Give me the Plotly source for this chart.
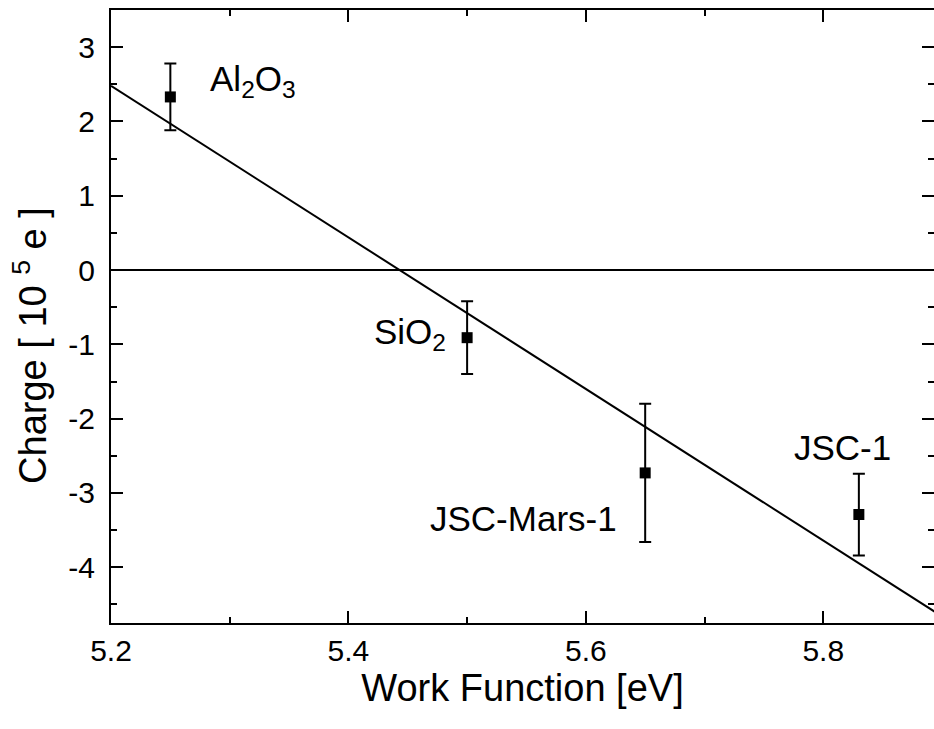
import plotly.graph_objects as go

# Data
materials = ["Al<sub>2</sub>O<sub>3</sub>", "SiO<sub>2</sub>", "JSC-Mars-1", "JSC-1"]
work_function = [5.25, 5.50, 5.65, 5.83]
charge = [2.33, -0.91, -2.73, -3.29]
charge_err = [0.45, 0.49, 0.93, 0.55]

fit_x = [5.2, 5.9]
fit_y = [2.48, -4.66]

zero_x = [5.2, 5.9]
zero_y = [0.0, 0.0]

x_range = [5.2, 5.8933]
y_range = [-4.75, 3.5]

x_tickvals = [5.2, 5.4, 5.6, 5.8]
x_ticktext = ["5.2", "5.4", "5.6", "5.8"]
y_tickvals = [-4, -3, -2, -1, 0, 1, 2, 3]
y_ticktext = ["-4", "-3", "-2", "-1", "0", "1", "2", "3"]

# label offsets (pixels) relative to each point: (xanchor, xshift, yshift)
label_pos = [("left", 38, 16), ("right", -19, 4), ("right", -26, -46), ("center", -16, 67)]

FONT = "Arial, Liberation Sans, sans-serif"
LW = 2

fig = go.Figure()
fig.add_trace(go.Scatter(x=zero_x, y=zero_y, mode="lines",
                         line=dict(color="black", width=LW), showlegend=False, hoverinfo="skip"))
fig.add_trace(go.Scatter(x=fit_x, y=fit_y, mode="lines",
                         line=dict(color="black", width=LW), showlegend=False))
fig.add_trace(go.Scatter(x=work_function, y=charge, mode="markers",
                         marker=dict(symbol="square", size=11, color="black"),
                         error_y=dict(type="data", array=charge_err, visible=True,
                                      color="black", thickness=2, width=6),
                         showlegend=False))
# invisible trace for mirrored axes
fig.add_trace(go.Scatter(x=fit_x, y=fit_y, xaxis="x2", yaxis="y2", mode="lines",
                         line=dict(width=0), opacity=0, showlegend=False, hoverinfo="skip"))

for name, xv, yv, (anc, xs, ys) in zip(materials, work_function, charge, label_pos):
    fig.add_annotation(x=xv, y=yv, text=name, showarrow=False, xanchor=anc, yanchor="middle",
                       xshift=xs, yshift=ys, font=dict(family=FONT, size=35, color="black"))

# y-axis title (placed as rotated text, as in the reference it sits below centre)
fig.add_annotation(xref="paper", yref="paper", x=0, y=0.452, xanchor="center", yanchor="middle",
                   xshift=-81, text="Charge [ 10 <sup>5</sup> e ]", textangle=-90, showarrow=False,
                   font=dict(family=FONT, size=38, color="black"))

common_x = dict(range=x_range, tickvals=x_tickvals, ticktext=x_ticktext, ticks="inside", ticklen=12,
                tickwidth=LW, tickcolor="black", showgrid=False, zeroline=False,
                minor=dict(ticks="inside", ticklen=6, dtick=0.1, tickwidth=LW, tickcolor="black", showgrid=False))
common_y = dict(range=y_range, tickvals=y_tickvals, ticktext=y_ticktext, ticks="inside", ticklen=12,
                tickwidth=LW, tickcolor="black", showgrid=False, zeroline=False,
                minor=dict(ticks="inside", ticklen=6, dtick=0.5, tickwidth=LW, tickcolor="black", showgrid=False))

fig.update_layout(
    width=934, height=729,
    margin=dict(l=111, r=0, t=10, b=106),
    paper_bgcolor="white", plot_bgcolor="white",
    font=dict(family=FONT, color="black"),
    xaxis=dict(**common_x, showline=True, linecolor="black", linewidth=LW,
               tickfont=dict(size=30), ticklabelstandoff=0,
               title=dict(text="Work Function [eV]", font=dict(size=38), standoff=4)),
    yaxis=dict(**common_y, showline=True, linecolor="black", linewidth=LW,
               tickfont=dict(size=30), ticklabelstandoff=8),
    xaxis2=dict(**common_x, overlaying="x", side="top", anchor="y2", showticklabels=False,
                showline=True, linecolor="black", linewidth=LW),
    yaxis2=dict(**common_y, overlaying="y", side="right", anchor="x2", showticklabels=False,
                showline=False),
)

fig.write_html("out.html")
